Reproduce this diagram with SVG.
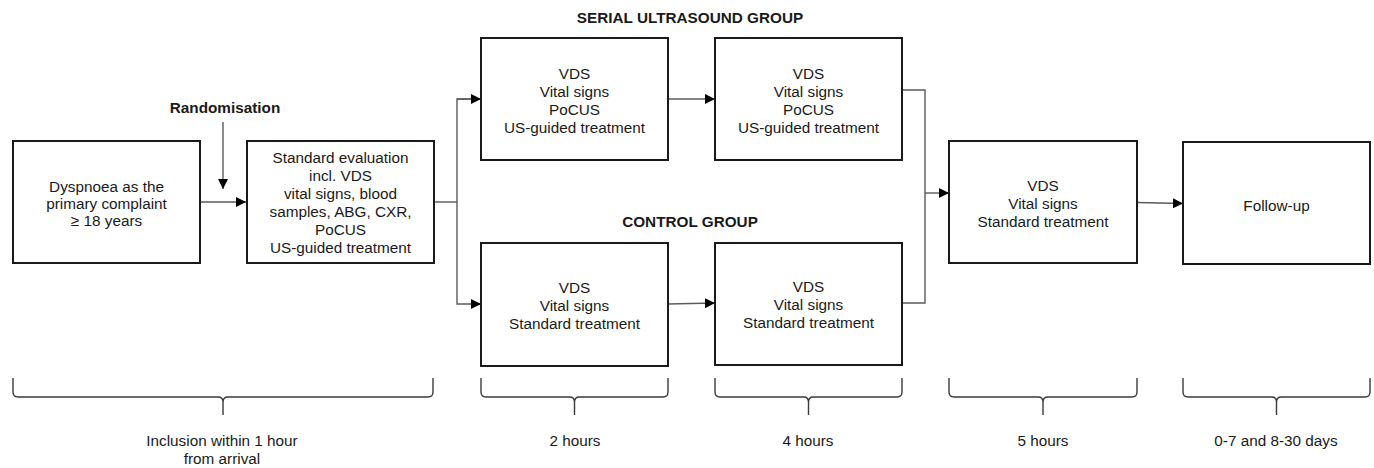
<svg xmlns="http://www.w3.org/2000/svg" width="1374" height="468" viewBox="0 0 1374 468">
  <defs>
    <style>
      .box { fill: #ffffff; stroke: #1a1a1a; stroke-width: 2; }
      .txt { font-family: "Liberation Sans", Arial, sans-serif; font-size: 15.3px; fill: #1a1a1a; text-anchor: middle; }
      .bold { font-weight: bold; }
      .conn { fill: none; stroke: #5a5a5a; stroke-width: 1.4; }
      .brace { fill: none; stroke: #3a3a3a; stroke-width: 1.4; }
    </style>
    <marker id="arrow" viewBox="0 0 10 10" refX="10" refY="5" markerWidth="10" markerHeight="10" markerUnits="userSpaceOnUse" orient="auto">
      <path d="M0,0 L10,5 L0,10 Z" fill="#000000"/>
    </marker>
  </defs>

  <rect width="1374" height="468" fill="#ffffff"/>

  <!-- group headings -->
  <text class="txt bold" x="690" y="22.5">SERIAL ULTRASOUND GROUP</text>
  <text class="txt bold" x="690" y="226.5">CONTROL GROUP</text>
  <text class="txt bold" x="225" y="112.5">Randomisation</text>

  <!-- connectors -->
  <g id="connectors">
    <line class="conn" x1="223" y1="122" x2="223" y2="189" marker-end="url(#arrow)"/>
    <line class="conn" x1="201" y1="202" x2="246" y2="202" marker-end="url(#arrow)"/>
    <polyline class="conn" points="434,202 457,202"/>
    <polyline class="conn" points="481,99 457,99 457,304 481,304" marker-end="url(#arrow)"/>
    <line class="conn" x1="457" y1="99" x2="481" y2="99" marker-end="url(#arrow)"/>
    <line class="conn" x1="668" y1="99" x2="715" y2="99" marker-end="url(#arrow)"/>
    <line class="conn" x1="668" y1="304" x2="715" y2="303" marker-end="url(#arrow)"/>
    <polyline class="conn" points="902,90 925,90 925,303 902,303"/>
    <line class="conn" x1="925" y1="193" x2="949" y2="193" marker-end="url(#arrow)"/>
    <line class="conn" x1="1137" y1="202.5" x2="1183" y2="203.5" marker-end="url(#arrow)"/>
  </g>

  <!-- nodes -->
  <g id="inclusion">
    <rect class="box" x="13" y="141" width="187" height="122"/>
    <text class="txt" x="106.5" y="191.5">Dyspnoea as the</text>
    <text class="txt" x="106.5" y="208.5">primary complaint</text>
    <text class="txt" x="106.5" y="225.5">≥ 18 years</text>
  </g>

  <g id="standard-evaluation">
    <rect class="box" x="247" y="141" width="187" height="122"/>
    <text class="txt" x="340.5" y="162.5">Standard evaluation</text>
    <text class="txt" x="340.5" y="180.6">incl. VDS</text>
    <text class="txt" x="340.5" y="198.7">vital signs, blood</text>
    <text class="txt" x="340.5" y="216.8">samples, ABG, CXR,</text>
    <text class="txt" x="340.5" y="234.9">PoCUS</text>
    <text class="txt" x="340.5" y="253">US-guided treatment</text>
  </g>

  <g id="serial-2h">
    <rect class="box" x="481" y="38" width="187" height="122"/>
    <text class="txt" x="574.5" y="78.5">VDS</text>
    <text class="txt" x="574.5" y="96.5">Vital signs</text>
    <text class="txt" x="574.5" y="114.5">PoCUS</text>
    <text class="txt" x="574.5" y="132.5">US-guided treatment</text>
  </g>

  <g id="serial-4h">
    <rect class="box" x="715" y="38" width="187" height="122"/>
    <text class="txt" x="808.5" y="78.5">VDS</text>
    <text class="txt" x="808.5" y="96.5">Vital signs</text>
    <text class="txt" x="808.5" y="114.5">PoCUS</text>
    <text class="txt" x="808.5" y="132.5">US-guided treatment</text>
  </g>

  <g id="control-2h">
    <rect class="box" x="481" y="243" width="187" height="123"/>
    <text class="txt" x="574.5" y="292.5">VDS</text>
    <text class="txt" x="574.5" y="310.5">Vital signs</text>
    <text class="txt" x="574.5" y="328.5">Standard treatment</text>
  </g>

  <g id="control-4h">
    <rect class="box" x="715" y="243" width="187" height="122"/>
    <text class="txt" x="808.5" y="292">VDS</text>
    <text class="txt" x="808.5" y="310">Vital signs</text>
    <text class="txt" x="808.5" y="328">Standard treatment</text>
  </g>

  <g id="all-5h">
    <rect class="box" x="949" y="141" width="188" height="122"/>
    <text class="txt" x="1043" y="190.5">VDS</text>
    <text class="txt" x="1043" y="208.5">Vital signs</text>
    <text class="txt" x="1043" y="226.5">Standard treatment</text>
  </g>

  <g id="follow-up">
    <rect class="box" x="1183" y="142" width="187" height="122"/>
    <text class="txt" x="1276.5" y="210.5">Follow-up</text>
  </g>

  <!-- timeline braces -->
  <g id="timeline">
    <path class="brace" d="M13,378 V392 Q13,397 18,397 H218 Q223,397 223,402 V415 M223,402 Q223,397 228,397 H428 Q433,397 433,392 V378"/>
    <path class="brace" d="M481,378 V392 Q481,397 486,397 H569.5 Q574.5,397 574.5,402 V415 M574.5,402 Q574.5,397 579.5,397 H663 Q668,397 668,392 V378"/>
    <path class="brace" d="M715,378 V392 Q715,397 720,397 H803.5 Q808.5,397 808.5,402 V415 M808.5,402 Q808.5,397 813.5,397 H897 Q902,397 902,392 V378"/>
    <path class="brace" d="M949,378 V392 Q949,397 954,397 H1038 Q1043,397 1043,402 V415 M1043,402 Q1043,397 1048,397 H1132 Q1137,397 1137,392 V378"/>
    <path class="brace" d="M1183,378 V392 Q1183,397 1188,397 H1271.5 Q1276.5,397 1276.5,402 V415 M1276.5,402 Q1276.5,397 1281.5,397 H1365 Q1370,397 1370,392 V378"/>
    <text class="txt" x="222" y="446">Inclusion within 1 hour</text>
    <text class="txt" x="222" y="464">from arrival</text>
    <text class="txt" x="575" y="446">2 hours</text>
    <text class="txt" x="808" y="446">4 hours</text>
    <text class="txt" x="1043" y="446">5 hours</text>
    <text class="txt" x="1276" y="446">0-7 and 8-30 days</text>
  </g>
</svg>
